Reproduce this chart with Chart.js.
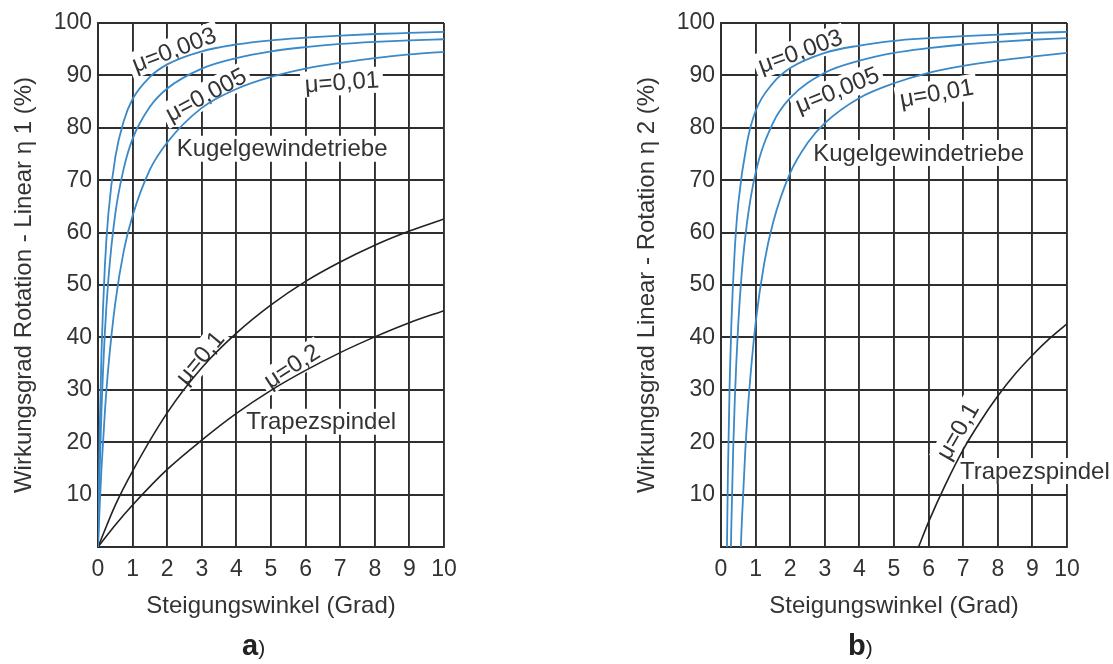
<!DOCTYPE html>
<html lang="de">
<head>
<meta charset="UTF-8">
<title>Wirkungsgrad Gewindetriebe</title>
<script src="https://cdn.jsdelivr.net/npm/chart.js"></script>
<style>
body { margin:0; background:#fff; font-family:"Liberation Sans", Arial, sans-serif; }
#wrap { position:relative; width:1113px; height:664px; overflow:hidden; }
canvas { position:absolute; top:0; }
#cA { left:0; }
#cB { left:623px; }
.tag { position:absolute; top:629px; font-size:21px; color:#222; }
.tag b { font-size:29px; }
</style>
</head>
<body>
<div id="wrap">
  <canvas id="cA" width="470" height="630"></canvas>
  <canvas id="cB" width="490" height="630"></canvas>
  <div class="tag" style="left:242px"><b>a</b>)</div>
  <div class="tag" style="left:848px"><b>b</b>)</div>
</div>

<script>
// Achsen
const xTicks = [0, 1, 2, 3, 4, 5, 6, 7, 8, 9, 10];
const yTicks = [10, 20, 30, 40, 50, 60, 70, 80, 90, 100];

// a) Rotation -> Linear, Kugelgewindetriebe (Steigungswinkel in Grad, Wirkungsgrad in %)
const phiA_kgt = [0, 0.05, 0.1, 0.2, 0.3, 0.5, 0.75, 1, 1.5, 2, 3, 4, 5, 6, 7, 8, 9, 10];
const etaA_003 = [0, 22.5, 36.8, 53.8, 63.6, 74.4, 81.4, 85.5, 89.7, 92.1, 94.6, 95.9, 96.7, 97.2, 97.6, 97.9, 98.1, 98.3];
const etaA_005 = [0, 14.9, 25.9, 41.1, 51.1, 63.6, 72.4, 77.9, 84.0, 87.5, 91.3, 93.3, 94.6, 95.4, 96.0, 96.4, 96.7, 96.9];
const etaA_01  = [0, 8.0, 14.9, 25.9, 34.4, 46.6, 56.7, 63.2, 72.0, 77.2, 83.8, 87.4, 89.7, 91.3, 92.4, 93.3, 94.0, 94.5];
// a) Trapezspindel
const phiA_trap = [0, 0.5, 1, 2, 3, 4, 5, 6, 7, 8, 9, 10];
const etaA_t01  = [0, 8.0, 14.5, 25.6, 34.2, 40.8, 46.2, 50.7, 54.4, 57.6, 60.3, 62.6];
const etaA_t02  = [0, 4.2, 8.0, 14.8, 20.4, 25.5, 29.9, 33.7, 37.1, 40.1, 42.8, 45.1];

// b) Linear -> Rotation, Kugelgewindetriebe
const phiB_003 = [0.172, 0.2, 0.25, 0.3, 0.4, 0.5, 0.75, 1, 1.5, 2, 3, 4, 5, 6, 7, 8, 9, 10];
const etaB_003 = [0, 14.0, 31.2, 42.7, 57.0, 65.6, 77.1, 83.2, 88.5, 91.4, 94.3, 95.7, 96.6, 97.1, 97.5, 97.8, 98.1, 98.3];
const phiB_005 = [0.287, 0.3, 0.35, 0.4, 0.5, 0.6, 0.75, 1, 1.5, 2, 3, 4, 5, 6, 7, 8, 9, 10];
const etaB_005 = [0, 4.5, 18.1, 28.4, 42.7, 52.3, 61.8, 71.4, 80.9, 85.7, 90.5, 92.8, 94.3, 95.2, 95.9, 96.4, 96.8, 97.1];
const phiB_01  = [0.573, 0.6, 0.7, 0.8, 1, 1.25, 1.5, 2, 2.5, 3, 4, 5, 6, 7, 8, 9, 10];
const etaB_01  = [0, 4.5, 18.1, 28.4, 42.7, 54.2, 61.8, 71.4, 77.1, 80.9, 85.7, 88.5, 90.5, 91.8, 92.8, 93.6, 94.3];
// b) Trapezspindel
const phiB_t01 = [5.71, 6, 6.5, 7, 7.5, 8, 8.5, 9, 9.5, 10];
const etaB_t01 = [0, 4.8, 12.1, 18.6, 24.0, 28.8, 33.0, 36.6, 39.8, 42.6];

// Beschriftungen im Diagramm (Lage in Achsenwerten, Drehung in Grad)
const notesA = [
  { t: 'μ=0,003', x: 2.2, y: 94.9, r: -21 },
  { t: 'μ=0,005', x: 3.12, y: 86.3, r: -28 },
  { t: 'μ=0,01', x: 7.05, y: 88.7, r: -4 },
  { t: 'Kugelgewindetriebe', x: 5.32, y: 76.0, r: 0 },
  { t: 'μ=0,1', x: 2.95, y: 36.1, r: -50 },
  { t: 'μ=0,2', x: 5.6, y: 34.5, r: -33 },
  { t: 'Trapezspindel', x: 6.45, y: 23.9, r: 0 }
];
const notesB = [
  { t: 'μ=0,003', x: 2.29, y: 94.6, r: -20 },
  { t: 'μ=0,005', x: 3.36, y: 87.2, r: -22 },
  { t: 'μ=0,01', x: 6.23, y: 86.6, r: -10 },
  { t: 'Kugelgewindetriebe', x: 5.71, y: 75.2, r: 0 },
  { t: 'μ=0,1', x: 6.84, y: 22.1, r: -60 },
  { t: 'Trapezspindel', x: 9.07, y: 14.5, r: 0 }
];

const FONT = '"Liberation Sans", Arial, sans-serif';
const BLUE = '#3a89c9';
const DARK = '#222';
const GRID = '#2e2e2e';

function pts(xs, ys) {
  return xs.map((x, i) => ({ x: x, y: ys[i] }));
}

function curve(xs, ys, color) {
  return {
    data: pts(xs, ys),
    borderColor: color,
    borderWidth: color === BLUE ? 1.8 : 1.6,
    pointRadius: 0,
    cubicInterpolationMode: 'monotone',
    fill: false
  };
}

// weiss hinterlegte Texte ueber dem Gitter
const notesPlugin = {
  id: 'notes',
  beforeDatasetsDraw(chart, args, opts) {
    const ctx = chart.ctx;
    const sx = chart.scales.x, sy = chart.scales.y;
    ctx.save();
    ctx.font = '24px ' + FONT;
    ctx.textAlign = 'center';
    ctx.textBaseline = 'middle';
    opts.items.forEach(n => {
      const px = sx.getPixelForValue(n.x);
      const py = sy.getPixelForValue(n.y);
      const w = ctx.measureText(n.t).width;
      ctx.save();
      ctx.translate(px, py);
      ctx.rotate(n.r * Math.PI / 180);
      ctx.fillStyle = '#fff';
      ctx.fillRect(-w / 2 - 4, -13, w + 8, 26);
      ctx.fillStyle = '#333';
      ctx.fillText(n.t, 0, 1);
      ctx.restore();
    });
    ctx.restore();
  }
};

function makeChart(id, yTitle, datasets, notes, padRight) {
  return new Chart(document.getElementById(id), {
    type: 'scatter',
    data: { datasets: datasets },
    plugins: [notesPlugin],
    options: {
      responsive: false,
      animation: false,
      showLine: true,
      layout: { padding: { left: 0, right: padRight, top: 23, bottom: 3 } },
      plugins: {
        legend: { display: false },
        tooltip: { enabled: false },
        notes: { items: notes }
      },
      scales: {
        x: {
          type: 'linear', min: 0, max: 10,
          afterBuildTicks: s => { s.ticks = xTicks.map(v => ({ value: v })); },
          afterFit: s => { s.height = 80; },
          grid: { color: GRID, lineWidth: 1.9, drawTicks: false },
          border: { color: GRID, width: 1.9 },
          ticks: { font: { size: 23, family: FONT }, color: '#333', padding: 9, maxRotation: 0, autoSkip: false },
          title: { display: true, text: 'Steigungswinkel (Grad)', color: '#333',
                   font: { size: 24, family: FONT }, padding: { top: 0, bottom: 6 } }
        },
        y: {
          type: 'linear', min: 0, max: 100,
          afterBuildTicks: s => { s.ticks = yTicks.map(v => ({ value: v })); },
          afterFit: s => { s.width = 98; },
          grid: { color: GRID, lineWidth: 1.9, drawTicks: false },
          border: { color: GRID, width: 1.9 },
          ticks: { font: { size: 23, family: FONT }, color: '#333', padding: 6 },
          title: { display: true, text: yTitle, color: '#333',
                   font: { size: 24, family: FONT }, padding: { top: 10, bottom: 0 } }
        }
      }
    }
  });
}

makeChart('cA', 'Wirkungsgrad Rotation - Linear η 1 (%)', [
  curve(phiA_kgt, etaA_003, BLUE),
  curve(phiA_kgt, etaA_005, BLUE),
  curve(phiA_kgt, etaA_01, BLUE),
  curve(phiA_trap, etaA_t01, DARK),
  curve(phiA_trap, etaA_t02, DARK)
], notesA, 26);

makeChart('cB', 'Wirkungsgrad Linear - Rotation η 2 (%)', [
  curve(phiB_003, etaB_003, BLUE),
  curve(phiB_005, etaB_005, BLUE),
  curve(phiB_01, etaB_01, BLUE),
  curve(phiB_t01, etaB_t01, DARK)
], notesB, 46);
</script>
</body>
</html>
